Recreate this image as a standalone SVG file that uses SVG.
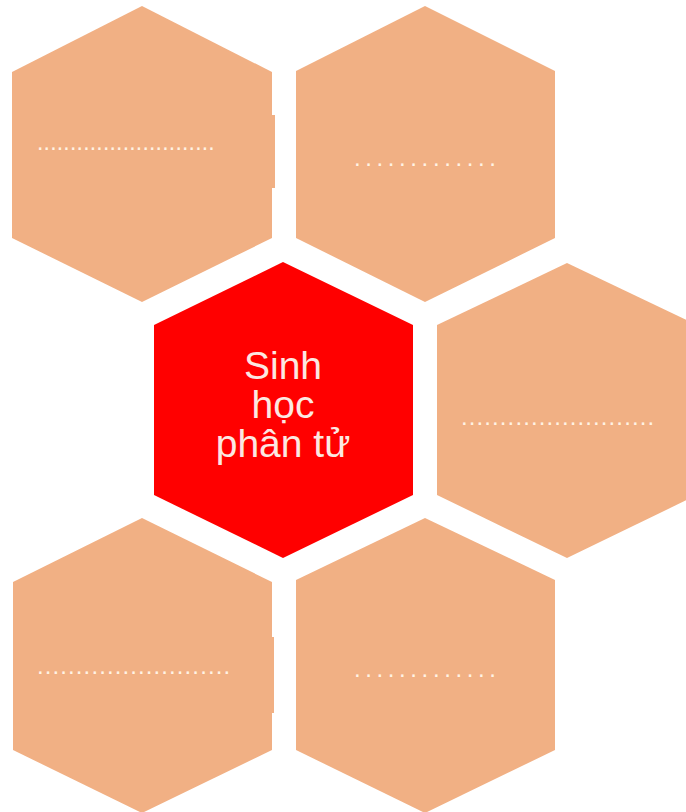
<svg xmlns="http://www.w3.org/2000/svg" width="686" height="812" viewBox="0 0 686 812">
<style>
.hex{fill:#F1B084}
.core{fill:#FF0000}
.dots{font-family:"Liberation Sans",Arial,sans-serif;fill:#FFF3E4}
.title{font-family:"Liberation Sans",Arial,sans-serif;font-size:39px;fill:#FCE8E2;text-anchor:middle}
</style>
<rect width="686" height="812" fill="#FFFFFF"/>
<g id="hex-top-left">
<polygon class="hex" points="142,6 272,72 272,238 142,302 12,238 12,72"/>
<rect class="hex" x="271" y="115" width="4" height="73"/>
<text class="dots" x="37" y="150" font-size="23" letter-spacing="0.2">...........................</text>
</g>
<g id="hex-top-right">
<polygon class="hex" points="425,6 555,71 555,238 425,302 296,238 296,71"/>
<text class="dots" x="354" y="166" font-size="24" letter-spacing="4.6">.............</text>
</g>
<g id="hex-center">
<polygon class="core" points="283,262 413,325 413,495 283,558 154,495 154,325"/>
<text class="title" x="283" y="379">Sinh</text>
<text class="title" x="283" y="418">học</text>
<text class="title" x="283" y="457">phân tử</text>
</g>
<g id="hex-right">
<polygon class="hex" points="567,263 697,325 697,495 567,558 437,495 437,325"/>
<text class="dots" x="461" y="425" font-size="24" letter-spacing="1.1">.........................</text>
</g>
<g id="hex-bottom-left">
<polygon class="hex" points="142,518 272,582 272,750 142,813 13,750 13,582"/>
<rect class="hex" x="271" y="637" width="3" height="76"/>
<text class="dots" x="37" y="674" font-size="24" letter-spacing="1.1">.........................</text>
</g>
<g id="hex-bottom-right">
<polygon class="hex" points="425,518 555,580 555,750 425,813 296,750 296,580"/>
<text class="dots" x="354" y="677" font-size="24" letter-spacing="4.6">.............</text>
</g>
<g id="connectors"></g>
</svg>
